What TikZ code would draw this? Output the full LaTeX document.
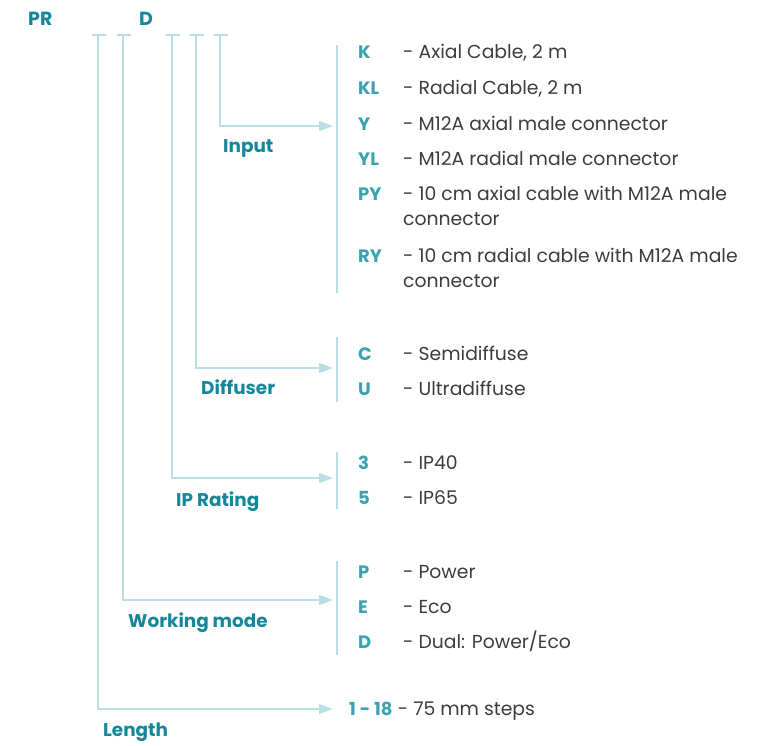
\documentclass[tikz,border=0pt]{standalone}
\usepackage{fontspec}
\setmainfont{Poppins}
\usetikzlibrary{arrows.meta}
\definecolor{headteal}{HTML}{14889A}
\definecolor{codeteal}{HTML}{3AA2B0}
\definecolor{wire}{HTML}{B9DEE4}
\definecolor{desctext}{HTML}{3C3C3C}
\tikzset{
  bar/.style={draw=wire, line width=1.2pt},
  link/.style={bar, -{Triangle[length=14pt,width=10pt]}},
  head/.style={anchor=base west, inner sep=0pt, text=headteal, font=\fontsize{19}{20}\selectfont\bfseries},
  group/.style={anchor=base west, inner sep=0pt, text=headteal, font=\fontsize{18.4}{20}\selectfont\bfseries},
  code/.style={anchor=base west, inner sep=0pt, text=codeteal, font=\fontsize{18}{20}\selectfont\bfseries},
  desc/.style={anchor=base west, inner sep=0pt, text=desctext, align=left, font=\fontsize{18.8}{25}\selectfont}
}
\begin{document}
\begin{tikzpicture}[x=1pt, y=-1pt]
\useasboundingbox (0,0) rectangle (758,745);

% header
\node[head] (pr) at (28,25) {PR};
\node[head] (dd) at (139,25) {D};

% ticks under the header
\foreach \x [count=\i] in {98,123,172,196,220} {
  \draw[bar] (\x-6,35) -- (\x+8,35);
  \coordinate (t\i) at (\x,35);
}

% arrow ends
\foreach \y [count=\i] in {709,600,478,368,126}
  \coordinate (e\i) at (333,\y);

% connectors
\foreach \i in {1,...,5}
  \draw[link] (t\i) |- (e\i);

% brackets
\draw[bar] (337,45) -- (337,293);
\draw[bar] (337,337) -- (337,402);
\draw[bar] (337,452) -- (337,509);
\draw[bar] (337,561) -- (337,655);

% group labels
\node[group] (gInput) at (223,152) {Input};
\node[group] (gDiff) at (201,394) {Diffuser};
\node[group] (gIP) at (176,506) {IP Rating};
\node[group] (gWork) at (128,627) {Working mode};
\node[group] (gLen) at (103,736) {Length};

% input
\node[code] (cK)  at (358,58)  {K};
\node[code] (cKL) at (358,94)  {KL};
\node[code] (cY)  at (358,130) {Y};
\node[code] (cYL) at (358,165) {YL};
\node[code] (cPY) at (358,200) {PY};
\node[code] (cRY) at (358,262) {RY};
\node[desc] (dK)  at (403,58)  {- Axial Cable, 2 m};
\node[desc] (dKL) at (403,94)  {- Radial Cable, 2 m};
\node[desc] (dY)  at (403,130) {- M12A axial male connector};
\node[desc] (dYL) at (403,165) {- M12A radial male connector};
\node[desc] (dPY) at (403,225) {- 10 cm axial cable with M12A male\\connector};
\node[desc] (dRY) at (403,287) {- 10 cm radial cable with M12A male\\connector};

% diffuser
\node[code] (cC) at (358,360) {C};
\node[code] (cU) at (358,395) {U};
\node[desc] (dC) at (403,360) {- Semidiffuse};
\node[desc] (dU) at (403,395) {- Ultradiffuse};

% ip rating
\node[code] (c3) at (358,469) {3};
\node[code] (c5) at (358,504) {5};
\node[desc] (d3) at (403,469) {- IP40};
\node[desc] (d5) at (403,504) {- IP65};

% working mode
\node[code] (cP) at (358,578) {P};
\node[code] (cE) at (358,613) {E};
\node[code] (cD) at (358,648) {D};
\node[desc] (dP) at (403,578) {- Power};
\node[desc] (dE) at (403,613) {- Eco};
\node[desc] (dD) at (403,648) {- Dual: Power/Eco};

% length
\node[code] (cLen) at (349,715) {1 - 18};
\node[desc, anchor=base west] (dLen) at (cLen.base east) {\ - 75 mm steps};
\end{tikzpicture}
\end{document}
